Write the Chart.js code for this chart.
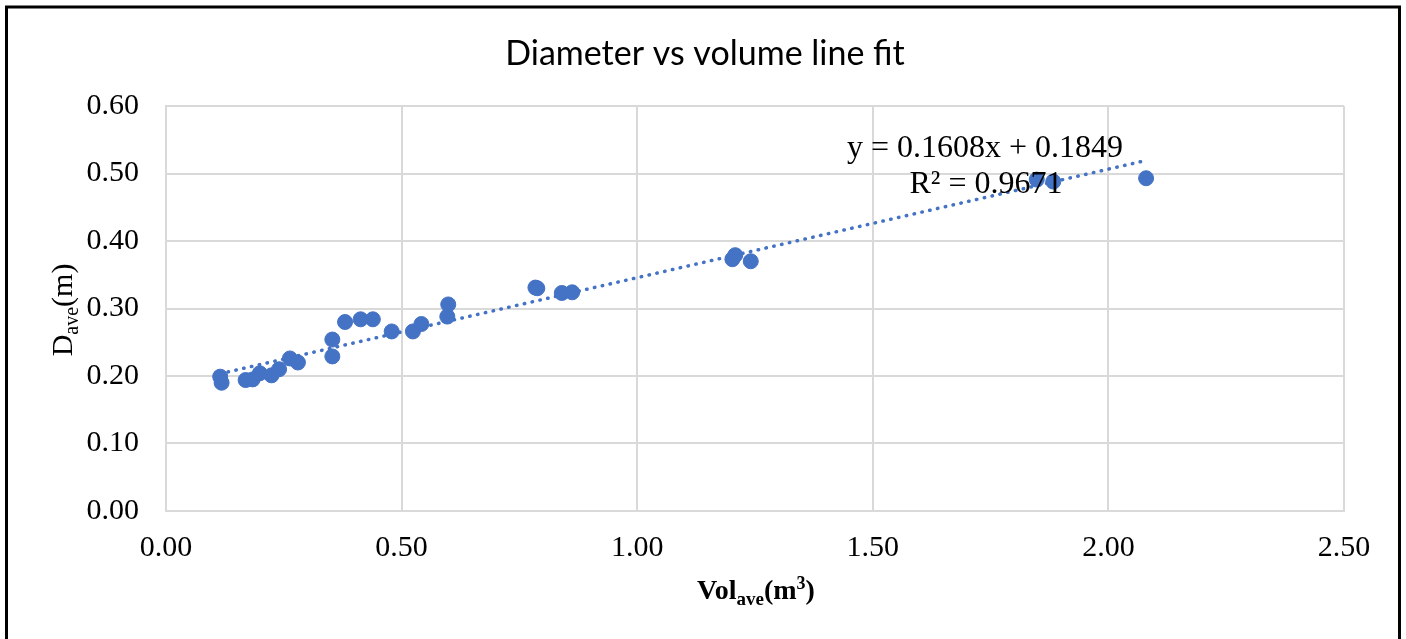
<!DOCTYPE html>
<html>
<head>
<meta charset="utf-8">
<script src="https://cdn.jsdelivr.net/npm/chart.js@4.4.0/dist/chart.umd.min.js"></script>
<style>
  body { margin: 0; background: #fff; }
</style>
</head>
<body>
<canvas id="myChart" width="1406" height="639"></canvas>
<script>
// average volume (m3) and average diameter (m) per log
var volAve = [0.115, 0.118, 0.169, 0.184, 0.199, 0.224, 0.240, 0.263, 0.280, 0.353,
              0.353, 0.380, 0.413, 0.439, 0.479, 0.524, 0.542, 0.597, 0.599, 0.784,
              0.788, 0.840, 0.862, 1.202, 1.208, 1.241, 1.848, 1.883, 2.080];
var dAve   = [0.199, 0.190, 0.194, 0.195, 0.204, 0.201, 0.210, 0.226, 0.220, 0.229,
              0.254, 0.280, 0.284, 0.284, 0.266, 0.266, 0.277, 0.288, 0.306, 0.331,
              0.330, 0.323, 0.324, 0.373, 0.379, 0.370, 0.491, 0.488, 0.493];

var xTicks = [0, 0.5, 1.0, 1.5, 2.0, 2.5];
var yTicks = [0, 0.1, 0.2, 0.3, 0.4, 0.5, 0.6];

// linear trendline shown on the chart
var slope = 0.1608;
var intercept = 0.1849;
var rSquared = 0.9671;

var chartTitle = 'Diameter vs volume line fit';
var blue = '#4472C4';

var points = [];
for (var i = 0; i < volAve.length; i++) {
    points.push({ x: volAve[i], y: dAve[i] });
}
var xMin = Math.min.apply(null, volAve);
var xMax = Math.max.apply(null, volAve);
var fitLine = [
    { x: xMin, y: slope * xMin + intercept },
    { x: xMax, y: slope * xMax + intercept }
];

// draws a run of text pieces (for sub/superscripts) centred on x
function drawParts(ctx, parts, x, y) {
    var total = 0;
    parts.forEach(function(p) {
        ctx.font = p.font;
        p.w = ctx.measureText(p.t).width;
        total += p.w;
    });
    var cx = x - total / 2;
    parts.forEach(function(p) {
        ctx.font = p.font;
        ctx.fillText(p.t, cx, y + (p.dy || 0));
        cx += p.w;
    });
}

var extras = {
    id: 'extras',
    beforeDraw: function(chart) {
        var ctx = chart.ctx;
        ctx.save();
        ctx.fillStyle = '#fff';
        ctx.fillRect(0, 0, chart.width, chart.height);
        ctx.restore();
    },
    afterDraw: function(chart) {
        var ctx = chart.ctx;
        ctx.save();
        ctx.fillStyle = '#000';

        // chart title, centred on the whole frame
        ctx.font = '34px Lato';
        ctx.textAlign = 'center';
        ctx.textBaseline = 'middle';
        ctx.fillText(chartTitle, 705, 54);

        ctx.textBaseline = 'alphabetic';
        ctx.textAlign = 'left';

        // x axis title: Vol_ave(m3)
        drawParts(ctx, [
            { t: 'Vol', font: 'bold 28px "Liberation Serif"' },
            { t: 'ave', font: 'bold 19px "Liberation Serif"', dy: 6 },
            { t: '(m', font: 'bold 28px "Liberation Serif"' },
            { t: '3', font: 'bold 18px "Liberation Serif"', dy: -10 },
            { t: ')', font: 'bold 28px "Liberation Serif"' }
        ], 756, 599);

        // y axis title: D_ave(m)
        ctx.save();
        ctx.translate(72, 310);
        ctx.rotate(-Math.PI / 2);
        drawParts(ctx, [
            { t: 'D', font: '30px "Liberation Serif"' },
            { t: 'ave', font: '20px "Liberation Serif"', dy: 6 },
            { t: '(m)', font: '30px "Liberation Serif"' }
        ], 0, 0);
        ctx.restore();

        // trendline equation
        ctx.font = '32px "Liberation Serif"';
        ctx.textAlign = 'center';
        ctx.fillText('y = ' + slope.toFixed(4) + 'x + ' + intercept.toFixed(4), 985, 157);
        ctx.fillText('R\u00B2 = ' + rSquared.toFixed(4), 986, 193);

        // outer frame
        ctx.strokeStyle = '#000';
        ctx.lineWidth = 3;
        ctx.strokeRect(6.5, 7, 1393, 650);
        ctx.restore();
    }
};

var ctx = document.getElementById('myChart');
var myChart = new Chart(ctx, {
    type: 'scatter',
    data: {
        datasets: [{
            label: 'Dave',
            data: points,
            backgroundColor: blue,
            borderColor: blue,
            borderWidth: 1,
            pointRadius: 7.5,
            order: 1
        }, {
            label: 'Linear fit',
            type: 'line',
            data: fitLine,
            borderColor: blue,
            borderWidth: 3.5,
            borderDash: [0.5, 7.5],
            borderCapStyle: 'round',
            pointRadius: 0,
            fill: false,
            order: 2
        }]
    },
    options: {
        responsive: false,
        animation: false,
        layout: {
            padding: { left: 7, right: 62, top: 106, bottom: 0 }
        },
        plugins: {
            legend: { display: false },
            tooltip: { enabled: false },
            title: { display: false }
        },
        scales: {
            x: {
                type: 'linear',
                min: 0,
                max: 2.5,
                afterBuildTicks: function(scale) {
                    scale.ticks = xTicks.map(function(v) { return { value: v }; });
                },
                afterFit: function(scale) { scale.height = 128; },
                grid: { color: '#d9d9d9', lineWidth: 2, drawTicks: false },
                border: { display: true, color: '#d9d9d9', width: 2 },
                ticks: {
                    padding: 19,
                    color: '#000',
                    font: { family: 'Liberation Serif', size: 30 },
                    callback: function(v) { return v.toFixed(2); }
                }
            },
            y: {
                type: 'linear',
                min: 0,
                max: 0.6,
                afterBuildTicks: function(scale) {
                    scale.ticks = yTicks.map(function(v) { return { value: v }; });
                },
                afterFit: function(scale) { scale.width = 159; },
                grid: { color: '#d9d9d9', lineWidth: 2, drawTicks: false },
                border: { display: true, color: '#d9d9d9', width: 2 },
                ticks: {
                    padding: 27,
                    color: '#000',
                    font: { family: 'Liberation Serif', size: 30 },
                    callback: function(v) { return v.toFixed(2); }
                }
            }
        }
    },
    plugins: [extras]
});
</script>
</body>
</html>
